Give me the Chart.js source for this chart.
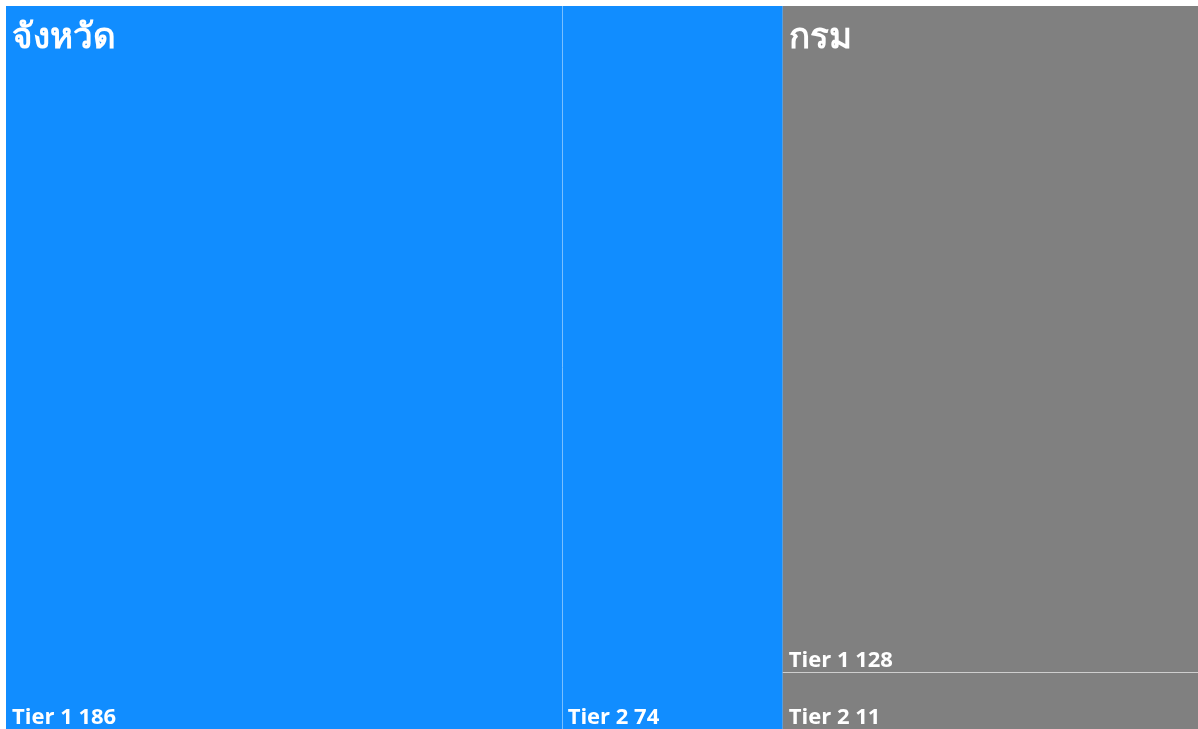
<!DOCTYPE html>
<html>
<head>
<meta charset="utf-8">
<script src="https://cdn.jsdelivr.net/npm/chart.js@4/dist/chart.umd.min.js"></script>
<style>
  html, body { margin: 0; padding: 0; background: #ffffff; overflow: hidden; }
  #wrap { position: absolute; left: 6px; top: 6px; width: 1192px; height: 723px; }
</style>
</head>
<body>
<div id="wrap"><canvas id="chart"></canvas></div>
<script>
// treemap data
const groups = ['จังหวัด', 'กรม'];
const tiers = ['Tier 1', 'Tier 2'];
const tier1 = [186, 128];
const tier2 = [74, 11];
const groupColors = ['#118DFF', '#808080'];
const dividerColors = ['rgba(190, 225, 255, 0.6)', 'rgba(225, 225, 225, 0.8)'];

const seriesByTier = [tier1, tier2];
const groupTotals = groups.map((g, i) => tier1[i] + tier2[i]);
const grandTotal = groupTotals.reduce((a, b) => a + b, 0);

// lays out rectangles in value space (x: 0..grandTotal, y: 0..1)
function buildRects(chart) {
  const xs = chart.scales.x;
  const ys = chart.scales.y;
  const rects = [];
  let cx = 0;
  groups.forEach((g, gi) => {
    const gx0 = cx, gx1 = cx + groupTotals[gi];
    cx = gx1;
    const pw = Math.abs(xs.getPixelForValue(gx1) - xs.getPixelForValue(gx0));
    const ph = Math.abs(ys.getPixelForValue(0) - ys.getPixelForValue(1));
    const group = { name: g, gi, x0: gx0, x1: gx1, y0: 0, y1: 1, cols: pw >= ph, leaves: [] };
    if (group.cols) {
      // split into columns
      let lx = gx0;
      tiers.forEach((t, ti) => {
        const v = seriesByTier[ti][gi];
        group.leaves.push({ name: t, value: v, x0: lx, x1: lx + v, y0: 0, y1: 1 });
        lx += v;
      });
    } else {
      // split into rows, first tier on top
      let ly = 1;
      tiers.forEach((t, ti) => {
        const v = seriesByTier[ti][gi];
        const h = v / groupTotals[gi];
        group.leaves.push({ name: t, value: v, x0: gx0, x1: gx1, y0: ly - h, y1: ly });
        ly -= h;
      });
    }
    rects.push(group);
  });
  return rects;
}

const treemapPlugin = {
  id: 'treemapDraw',
  afterDatasetsDraw(chart) {
    const ctx = chart.ctx;
    const xs = chart.scales.x;
    const ys = chart.scales.y;
    const rects = buildRects(chart);
    ctx.save();
    rects.forEach(grp => {
      const gl = xs.getPixelForValue(grp.x0), gr = xs.getPixelForValue(grp.x1);
      const gt = ys.getPixelForValue(grp.y1), gb = ys.getPixelForValue(grp.y0);
      ctx.fillStyle = groupColors[grp.gi];
      ctx.fillRect(gl, gt, gr - gl, gb - gt);

      grp.leaves.forEach((lf, li) => {
        const l = xs.getPixelForValue(lf.x0), r = xs.getPixelForValue(lf.x1);
        const t = ys.getPixelForValue(lf.y1), b = ys.getPixelForValue(lf.y0);
        // divider between leaves
        if (li > 0) {
          ctx.strokeStyle = dividerColors[grp.gi];
          ctx.lineWidth = 1;
          ctx.beginPath();
          if (grp.cols) {
            ctx.moveTo(Math.round(l) + 0.5, t);
            ctx.lineTo(Math.round(l) + 0.5, b);
          } else {
            ctx.moveTo(l, Math.round(t) + 0.5);
            ctx.lineTo(r, Math.round(t) + 0.5);
          }
          ctx.stroke();
        }
        ctx.fillStyle = '#ffffff';
        ctx.font = 'bold 22px "Open Sans", "Noto Sans", sans-serif';
        ctx.textAlign = 'left';
        ctx.textBaseline = 'alphabetic';
        ctx.fillText(lf.name + ' ' + lf.value, l + 6, b - 5);
      });

      ctx.fillStyle = '#ffffff';
      ctx.font = 'bold 35px "Noto Sans", "Open Sans", sans-serif';
      ctx.textBaseline = 'alphabetic';
      ctx.fillText(grp.name, gl + 6, gt + 42);
    });
    ctx.restore();
  }
};

const chart = new Chart(document.getElementById('chart').getContext('2d'), {
  type: 'scatter',
  data: {
    datasets: groups.map((g, gi) => ({
      label: g,
      data: [],
      backgroundColor: groupColors[gi]
    }))
  },
  options: {
    responsive: true,
    maintainAspectRatio: false,
    animation: false,
    layout: { padding: 0 },
    plugins: {
      legend: { display: false },
      tooltip: { enabled: false },
      title: { display: false }
    },
    scales: {
      x: { type: 'linear', min: 0, max: grandTotal, display: false },
      y: { type: 'linear', min: 0, max: 1, display: false }
    }
  },
  plugins: [treemapPlugin]
});
</script>
</body>
</html>
